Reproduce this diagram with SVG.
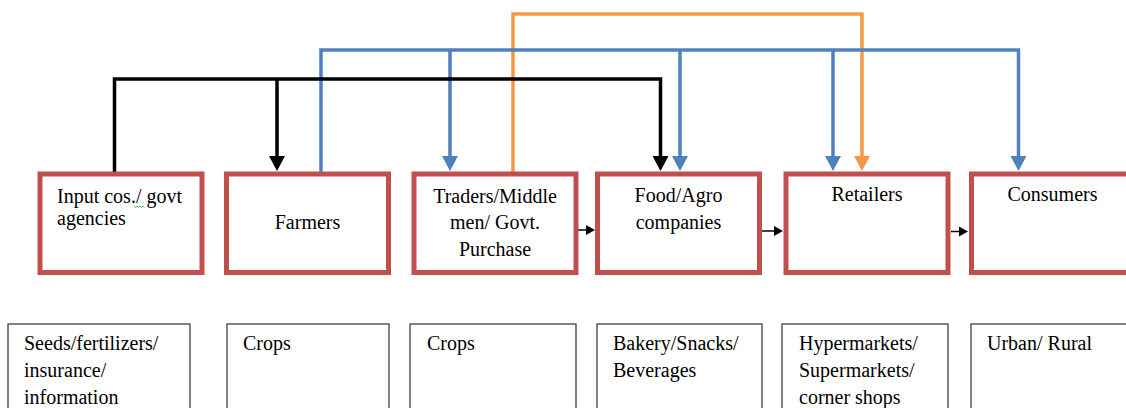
<svg xmlns="http://www.w3.org/2000/svg" width="1126" height="408" viewBox="0 0 1126 408">
<defs>
<style>
.main{fill:#fff;stroke:#c0504d;stroke-width:5}
.sub{fill:#fff;stroke:#404040;stroke-width:1.3}
text{font-family:"Liberation Serif","Times New Roman",serif;font-size:20px;fill:#000}
.c{text-anchor:middle}
.blk{fill:none;stroke:#000;stroke-width:3.5}
.blu{fill:none;stroke:#4f81bd;stroke-width:3.5}
.org{fill:none;stroke:#f79646;stroke-width:3.5}
.thin{fill:none;stroke:#000;stroke-width:1.5}
</style>
<marker id="ak" markerUnits="userSpaceOnUse" viewBox="0 0 16 16" markerWidth="16" markerHeight="16" refX="1" refY="8" orient="auto"><path d="M0,0 L15,8 L0,16 z" fill="#000"/></marker>
<marker id="ab" markerUnits="userSpaceOnUse" viewBox="0 0 16 16" markerWidth="16" markerHeight="16" refX="1" refY="8" orient="auto"><path d="M0,0 L15,8 L0,16 z" fill="#4f81bd"/></marker>
<marker id="ao" markerUnits="userSpaceOnUse" viewBox="0 0 16 16" markerWidth="16" markerHeight="16" refX="1" refY="8" orient="auto"><path d="M0,0 L15,8 L0,16 z" fill="#f79646"/></marker>
<marker id="as" markerUnits="userSpaceOnUse" viewBox="0 0 10 10" markerWidth="10" markerHeight="10" refX="1" refY="5" orient="auto"><path d="M0,0 L9,5 L0,10 z" fill="#000"/></marker>
</defs>

<g id="connectors">
<path class="org" d="M513,172 V14 H862 V157" marker-end="url(#ao)"/>
<path class="blu" d="M321,172 V50 H1018.5 V157" marker-end="url(#ab)"/>
<path class="blu" d="M450,50 V157" marker-end="url(#ab)"/>
<path class="blu" d="M680,50 V157" marker-end="url(#ab)"/>
<path class="blu" d="M833,50 V157" marker-end="url(#ab)"/>
<path class="blk" d="M114.5,172 V79 H660.5 V157" marker-end="url(#ak)"/>
<path class="blk" d="M277,79 V157" marker-end="url(#ak)"/>
<path class="thin" d="M578,230 H587" marker-end="url(#as)"/>
<path class="thin" d="M762,231 H775" marker-end="url(#as)"/>
<path class="thin" d="M951,231.5 H960" marker-end="url(#as)"/>
</g>

<g id="node-input">
<rect class="main" x="40" y="174" width="162" height="98.5"/>
<text x="57" y="203">Input cos./ govt</text>
<text x="57" y="225">agencies</text>
<path d="M134,206 l1.5,1.5 l1.5,-1.5 l1.5,1.5 l1.5,-1.5 l1.5,1.5 l1.5,-1.5 l1.5,1.5" fill="none" stroke="#2a9d2a" stroke-width="0.8"/>
</g>
<g id="node-farmers">
<rect class="main" x="226.5" y="174" width="162" height="98.5"/>
<text class="c" x="307.5" y="229">Farmers</text>
</g>
<g id="node-traders">
<rect class="main" x="414" y="174" width="162" height="98.5"/>
<text class="c" x="495" y="203">Traders/Middle</text>
<text class="c" x="495" y="229">men/ Govt.</text>
<text class="c" x="495" y="256">Purchase</text>
</g>
<g id="node-food">
<rect class="main" x="597.5" y="174" width="162" height="98.5"/>
<text class="c" x="678.5" y="202">Food/Agro</text>
<text class="c" x="678.5" y="229">companies</text>
</g>
<g id="node-retailers">
<rect class="main" x="786" y="174" width="162" height="98.5"/>
<text class="c" x="867" y="201">Retailers</text>
</g>
<g id="node-consumers">
<rect class="main" x="971.5" y="174" width="162" height="98.5"/>
<text class="c" x="1052.5" y="201">Consumers</text>
</g>

<g id="detail-input">
<rect class="sub" x="8" y="324" width="182" height="100"/>
<text x="24" y="350">Seeds/fertilizers/</text>
<text x="24" y="377">insurance/</text>
<text x="24" y="404">information</text>
</g>
<g id="detail-farmers">
<rect class="sub" x="227" y="324" width="162" height="100"/>
<text x="243" y="350">Crops</text>
</g>
<g id="detail-traders">
<rect class="sub" x="410" y="324" width="166" height="100"/>
<text x="427" y="350">Crops</text>
</g>
<g id="detail-food">
<rect class="sub" x="597" y="324" width="165" height="100"/>
<text x="613" y="350">Bakery/Snacks/</text>
<text x="613" y="377">Beverages</text>
</g>
<g id="detail-retailers">
<rect class="sub" x="782" y="324" width="166" height="100"/>
<text x="799" y="350">Hypermarkets/</text>
<text x="799" y="377">Supermarkets/</text>
<text x="799" y="404">corner shops</text>
</g>
<g id="detail-consumers">
<rect class="sub" x="971" y="324" width="170" height="100"/>
<text x="987" y="350">Urban/ Rural</text>
</g>
</svg>
